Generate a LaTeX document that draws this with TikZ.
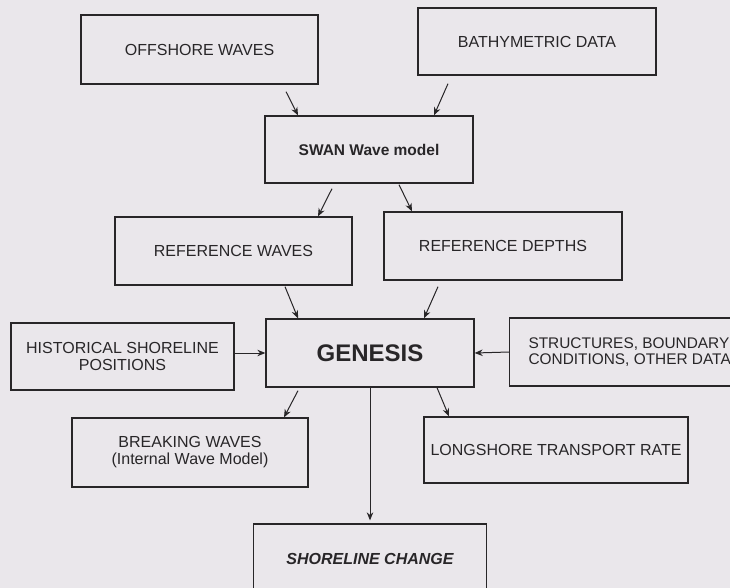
\documentclass[tikz,border=0pt]{standalone}
\usepackage{fontspec}
\setmainfont{Liberation Sans}
\usetikzlibrary{arrows.meta}
\definecolor{paper}{RGB}{234,231,235}
\definecolor{ink}{RGB}{40,38,40}

\begin{document}
\begin{tikzpicture}[x=1pt, y=-1pt,
      block/.style={draw=ink, line width=1.3pt, align=center, inner sep=0pt,
                    minimum width=237pt, minimum height=68pt, text=ink,
                    font=\fontsize{16}{17}\selectfont},
      link/.style={draw=ink, line width=1pt, ->},
      >={Stealth[length=8pt, width=6.5pt]}]
    \useasboundingbox (0,0) rectangle (730,588);
    \clip (0,0) rectangle (730,588);
    \fill[paper] (0,0) rectangle (730,588);
    % inputs
    \node[block, minimum height=69pt] (off) at (199.5,49.5) {OFFSHORE WAVES};
    \node[block, minimum width=238pt, minimum height=67pt] (bathy) at (537,41.5) {BATHYMETRIC DATA};
    \node[block, minimum width=208pt, minimum height=67pt,
          font=\fontsize{15.5}{17}\selectfont\bfseries] (swan) at (369,149.5) {SWAN Wave model};
    \node[block] (refw) at (233.5,251) {REFERENCE WAVES};
    \node[block, minimum width=238pt] (refd) at (503,246) {REFERENCE DEPTHS};
    % model
    \node[block, minimum width=208pt,
          font=\fontsize{24}{26}\selectfont\bfseries] (gen) at (370,353) {GENESIS};
    \node[block, minimum width=223pt, minimum height=67pt] (hist) at (122.5,356.5) {HISTORICAL SHORELINE\\ POSITIONS};
    \node[block, anchor=west, align=left, inner xsep=7pt, minimum width=240pt,
          font=\fontsize{15.4}{16}\selectfont] (struc) at (509,352) {STRUCTURES, BOUNDARY\\ CONDITIONS, OTHER DATA};
    % outputs
    \node[block, minimum width=236pt, minimum height=69pt] (brk) at (190,452.5) {BREAKING WAVES\\ (Internal Wave Model)};
    \node[block, minimum width=264pt, minimum height=66pt] (lng) at (556,450) {LONGSHORE TRANSPORT RATE};
    \node[block, minimum width=233pt, minimum height=69pt,
          font=\fontsize{16}{17}\selectfont\bfseries\itshape] (shc) at (370,558.5) {SHORELINE CHANGE};
    \draw[link] ([xshift=86.5pt, yshift=-7pt]off.south) -- ([xshift=-71pt]swan.north);
    \draw[link] ([xshift=-89pt, yshift=-8pt]bathy.south) -- ([xshift=65pt]swan.north);
    \draw[link] ([xshift=-37pt, yshift=-5pt]swan.south) -- ([xshift=84.5pt]refw.north);
    \draw[link] ([xshift=30pt, yshift=-1pt]swan.south) -- ([xshift=-91pt]refd.north);
    \draw[link] ([xshift=51.5pt, yshift=-1pt]refw.south) -- ([xshift=-72pt]gen.north);
    \draw[link] ([xshift=-65pt, yshift=-6pt]refd.south) -- ([xshift=54pt]gen.north);
    \draw[link] ([yshift=3.5pt]hist.east) -- (gen.west);
    \draw[link] (struc.west) -- (gen.east);
    \draw[link] ([xshift=-72pt, yshift=-3pt]gen.south) -- ([xshift=94pt]brk.north);
    \draw[link] ([xshift=67pt]gen.south) -- ([xshift=-107pt]lng.north);
    \draw[link, shorten >=3pt] (gen.south) -- (shc.north);
  \end{tikzpicture}
\end{document}
